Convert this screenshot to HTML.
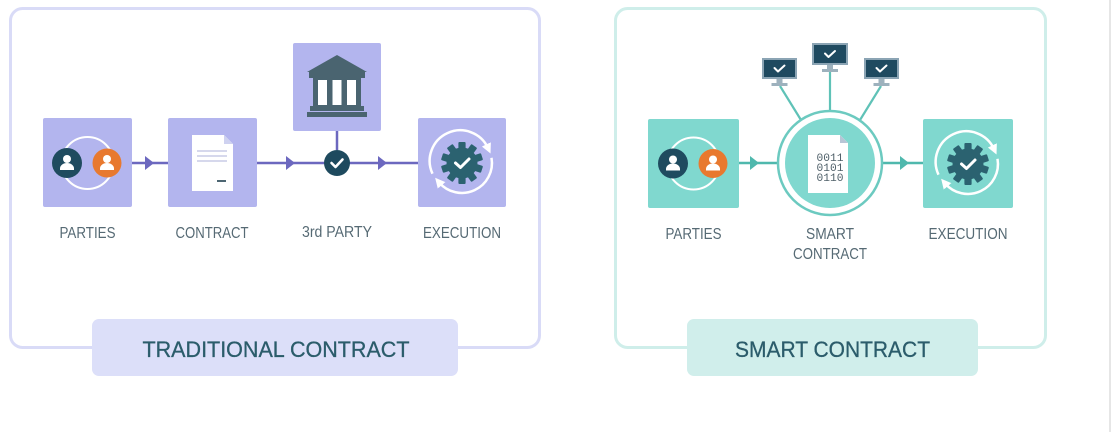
<!DOCTYPE html>
<html><head><meta charset="utf-8"><style>
html,body{margin:0;padding:0;background:#fff;}
svg{display:block;}
</style></head><body>
<svg width="1116" height="444" viewBox="0 0 1116 444" xmlns="http://www.w3.org/2000/svg" font-family="'Liberation Sans', sans-serif">
<defs>
<marker id="ah" viewBox="0 0 10 10" refX="4" refY="5" markerWidth="4" markerHeight="4" orient="auto"><path d="M0 0 L10 5 L0 10 Z" fill="#fff"/></marker>
</defs>
<rect width="1116" height="444" fill="#fff"/>
<line x1="1110" y1="0" x2="1110" y2="432" stroke="#e6e6e6" stroke-width="2"/>

<!-- ============ LEFT PANEL ============ -->
<rect x="10.5" y="8.5" width="529" height="339" rx="12" fill="none" stroke="#d9dbf7" stroke-width="3"/>

<line x1="132" y1="163" x2="418" y2="163" stroke="#6c68bf" stroke-width="2.5"/>
<line x1="337" y1="131" x2="337" y2="150" stroke="#6c68bf" stroke-width="2.5"/>
<path d="M145 156 L154 163 L145 170 Z" fill="#6c68bf"/>
<path d="M286 156 L295 163 L286 170 Z" fill="#6c68bf"/>
<path d="M378 156 L387 163 L378 170 Z" fill="#6c68bf"/>

<!-- PARTIES box -->
<rect x="43" y="118" width="89" height="89" rx="2" fill="#b3b5ee"/>
<circle cx="87.5" cy="163" r="26" fill="none" stroke="#fff" stroke-width="2"/>
<circle cx="67" cy="163" r="15" fill="#1f4b5f"/>
<circle cx="67" cy="159" r="4" fill="#fff"/>
<path d="M60 170 v-1.5 a7 5.5 0 0 1 14 0 v1.5 z" fill="#fff"/>
<circle cx="107" cy="163" r="14.5" fill="#e8792f"/>
<circle cx="107" cy="159" r="4" fill="#fff"/>
<path d="M100 170 v-1.5 a7 5.5 0 0 1 14 0 v1.5 z" fill="#fff"/>

<!-- CONTRACT box -->
<rect x="168" y="118" width="89" height="89" rx="2" fill="#b3b5ee"/>
<path d="M192 135 H224 L233 144 V191 H192 Z" fill="#fff"/>
<path d="M224 135 V144 H233 Z" fill="#cfd2f0"/>
<g stroke="#c8cbe6" stroke-width="1.6">
<line x1="197" y1="151" x2="227" y2="151"/>
<line x1="197" y1="156" x2="227" y2="156"/>
<line x1="197" y1="161" x2="227" y2="161"/>
</g>
<line x1="217" y1="181" x2="226" y2="181" stroke="#4d6672" stroke-width="2"/>

<!-- 3rd PARTY bank -->
<rect x="293" y="43" width="88" height="88" rx="2" fill="#b3b5ee"/>
<path d="M307 72 L337 55 L367 72 Z" fill="#4a6470"/>
<rect x="309" y="72" width="56" height="6" fill="#4a6470"/>
<rect x="313" y="78" width="48" height="28" fill="#4a6470"/>
<rect x="318" y="80" width="9" height="25" fill="#fff"/>
<rect x="332.5" y="80" width="9" height="25" fill="#fff"/>
<rect x="347" y="80" width="9" height="25" fill="#fff"/>
<rect x="310" y="106" width="54" height="5" fill="#4a6470"/>
<rect x="307" y="112" width="60" height="5" fill="#4a6470"/>
<circle cx="337" cy="163" r="13" fill="#1e4a5e"/>
<polyline points="331.5,163 335.5,167 342.5,159.5" fill="none" stroke="#fff" stroke-width="2.6" stroke-linecap="round" stroke-linejoin="round"/>

<!-- EXECUTION -->
<rect x="418" y="118" width="88" height="89" rx="2" fill="#b3b5ee"/>
<g transform="translate(462,163)">
<path d="M-29.5 10.7 A30 30 0 0 1 26 -15" fill="none" stroke="#fff" stroke-width="2.5" marker-end="url(#ah)"/>
<path d="M29.5 -5.2 A30 30 0 0 1 -23 19.3" fill="none" stroke="#fff" stroke-width="2.5" marker-end="url(#ah)"/>
<circle r="15.5" fill="#2b6270"/>
<g fill="#2b6270">
<rect x="-3.6" y="-21" width="7.2" height="42" rx="1"/>
<rect x="-3.6" y="-21" width="7.2" height="42" rx="1" transform="rotate(36)"/>
<rect x="-3.6" y="-21" width="7.2" height="42" rx="1" transform="rotate(72)"/>
<rect x="-3.6" y="-21" width="7.2" height="42" rx="1" transform="rotate(108)"/>
<rect x="-3.6" y="-21" width="7.2" height="42" rx="1" transform="rotate(144)"/>
</g>
<polyline points="-6.5,0 -1.5,4.5 7,-4" fill="none" stroke="#fff" stroke-width="3" stroke-linecap="round" stroke-linejoin="round"/>
</g>

<!-- small labels left -->
<g fill="#566a74" font-size="16" text-anchor="middle">
<text x="87.5" y="238" textLength="56" lengthAdjust="spacingAndGlyphs">PARTIES</text>
<text x="212" y="238" textLength="73" lengthAdjust="spacingAndGlyphs">CONTRACT</text>
<text x="337" y="237" textLength="70" lengthAdjust="spacingAndGlyphs">3rd PARTY</text>
<text x="462" y="238" textLength="78" lengthAdjust="spacingAndGlyphs">EXECUTION</text>
</g>

<!-- title left -->
<rect x="92" y="319" width="366" height="57" rx="7" fill="#dcdff9"/>
<text x="276" y="357" fill="#2b5c6b" font-size="22" text-anchor="middle" textLength="267" lengthAdjust="spacingAndGlyphs" stroke="#2b5c6b" stroke-width="0.3">TRADITIONAL CONTRACT</text>

<!-- ============ RIGHT PANEL ============ -->
<rect x="615.5" y="8.5" width="430" height="339" rx="12" fill="none" stroke="#cfeeea" stroke-width="3"/>

<line x1="739" y1="163" x2="780" y2="163" stroke="#4fb8ad" stroke-width="2.5"/>
<line x1="880" y1="163" x2="923" y2="163" stroke="#4fb8ad" stroke-width="2.5"/>
<path d="M750 156 L759 163 L750 170 Z" fill="#4fb8ad"/>
<path d="M900 156 L909 163 L900 170 Z" fill="#4fb8ad"/>
<g stroke="#5fc2b7" stroke-width="2.2">
<line x1="780" y1="86" x2="801" y2="120"/>
<line x1="830" y1="72" x2="830" y2="111"/>
<line x1="881" y1="86" x2="860" y2="120"/>
</g>

<!-- monitors -->
<g>
<rect x="762" y="58" width="35" height="21" fill="#8ba4b4"/>
<rect x="764" y="60" width="31" height="17" fill="#1f4a60"/>
<rect x="776.5" y="79" width="6" height="4" fill="#9db1bd"/>
<rect x="771.5" y="83" width="16" height="3" fill="#9db1bd"/>
<polyline points="774.5,68 778,71.5 784.5,65.5" fill="none" stroke="#fff" stroke-width="2" stroke-linecap="round" stroke-linejoin="round"/>

<rect x="812" y="43" width="36" height="22" fill="#8ba4b4"/>
<rect x="814" y="45" width="32" height="18" fill="#1f4a60"/>
<rect x="827" y="65" width="6" height="4" fill="#9db1bd"/>
<rect x="822" y="69" width="16" height="3" fill="#9db1bd"/>
<polyline points="825,53.5 828.5,57 835,51" fill="none" stroke="#fff" stroke-width="2" stroke-linecap="round" stroke-linejoin="round"/>

<rect x="864" y="58" width="35" height="21" fill="#8ba4b4"/>
<rect x="866" y="60" width="31" height="17" fill="#1f4a60"/>
<rect x="878.5" y="79" width="6" height="4" fill="#9db1bd"/>
<rect x="873.5" y="83" width="16" height="3" fill="#9db1bd"/>
<polyline points="876.5,68 880,71.5 886.5,65.5" fill="none" stroke="#fff" stroke-width="2" stroke-linecap="round" stroke-linejoin="round"/>
</g>

<!-- PARTIES box right -->
<rect x="648" y="119" width="91" height="89" rx="2" fill="#80d8cf"/>
<circle cx="693.5" cy="163.5" r="26" fill="none" stroke="#fff" stroke-width="2"/>
<circle cx="673" cy="163.5" r="15" fill="#1f4b5f"/>
<circle cx="673" cy="159.5" r="4" fill="#fff"/>
<path d="M666 170.5 v-1.5 a7 5.5 0 0 1 14 0 v1.5 z" fill="#fff"/>
<circle cx="713" cy="163.5" r="14.5" fill="#e8792f"/>
<circle cx="713" cy="159.5" r="4" fill="#fff"/>
<path d="M706 170.5 v-1.5 a7 5.5 0 0 1 14 0 v1.5 z" fill="#fff"/>

<!-- SMART CONTRACT circle -->
<circle cx="830" cy="163" r="52" fill="#fff" stroke="#6ccac0" stroke-width="2.5"/>
<circle cx="830" cy="163" r="45" fill="#80d8cf"/>
<path d="M808 135 H840 L848 143 V193 H808 Z" fill="#fff"/>
<path d="M840 135 V143 H848 Z" fill="#b7c6d6"/>
<g fill="#4e5f68" font-family="'Liberation Mono', monospace" font-size="11" text-anchor="middle">
<text x="830" y="161" textLength="27" lengthAdjust="spacingAndGlyphs">0011</text>
<text x="830" y="171" textLength="27" lengthAdjust="spacingAndGlyphs">0101</text>
<text x="830" y="181" textLength="27" lengthAdjust="spacingAndGlyphs">0110</text>
</g>

<!-- EXECUTION right -->
<rect x="923" y="119" width="90" height="89" rx="2" fill="#80d8cf"/>
<g transform="translate(968,164)">
<path d="M-29.5 10.7 A30 30 0 0 1 26 -15" fill="none" stroke="#fff" stroke-width="2.5" marker-end="url(#ah)"/>
<path d="M29.5 -5.2 A30 30 0 0 1 -23 19.3" fill="none" stroke="#fff" stroke-width="2.5" marker-end="url(#ah)"/>
<circle r="15.5" fill="#2b6270"/>
<g fill="#2b6270">
<rect x="-3.6" y="-21" width="7.2" height="42" rx="1"/>
<rect x="-3.6" y="-21" width="7.2" height="42" rx="1" transform="rotate(36)"/>
<rect x="-3.6" y="-21" width="7.2" height="42" rx="1" transform="rotate(72)"/>
<rect x="-3.6" y="-21" width="7.2" height="42" rx="1" transform="rotate(108)"/>
<rect x="-3.6" y="-21" width="7.2" height="42" rx="1" transform="rotate(144)"/>
</g>
<polyline points="-6.5,0 -1.5,4.5 7,-4" fill="none" stroke="#fff" stroke-width="3" stroke-linecap="round" stroke-linejoin="round"/>
</g>

<!-- small labels right -->
<g fill="#566a74" font-size="16" text-anchor="middle">
<text x="693.5" y="239" textLength="56" lengthAdjust="spacingAndGlyphs">PARTIES</text>
<text x="830" y="239" textLength="48" lengthAdjust="spacingAndGlyphs">SMART</text>
<text x="830" y="259" textLength="74" lengthAdjust="spacingAndGlyphs">CONTRACT</text>
<text x="968" y="239" textLength="79" lengthAdjust="spacingAndGlyphs">EXECUTION</text>
</g>

<!-- title right -->
<rect x="687" y="319" width="291" height="57" rx="7" fill="#d0eeeb"/>
<text x="832.5" y="357" fill="#2b5c6b" font-size="22" text-anchor="middle" textLength="195" lengthAdjust="spacingAndGlyphs" stroke="#2b5c6b" stroke-width="0.3">SMART CONTRACT</text>
</svg>
</body></html>
